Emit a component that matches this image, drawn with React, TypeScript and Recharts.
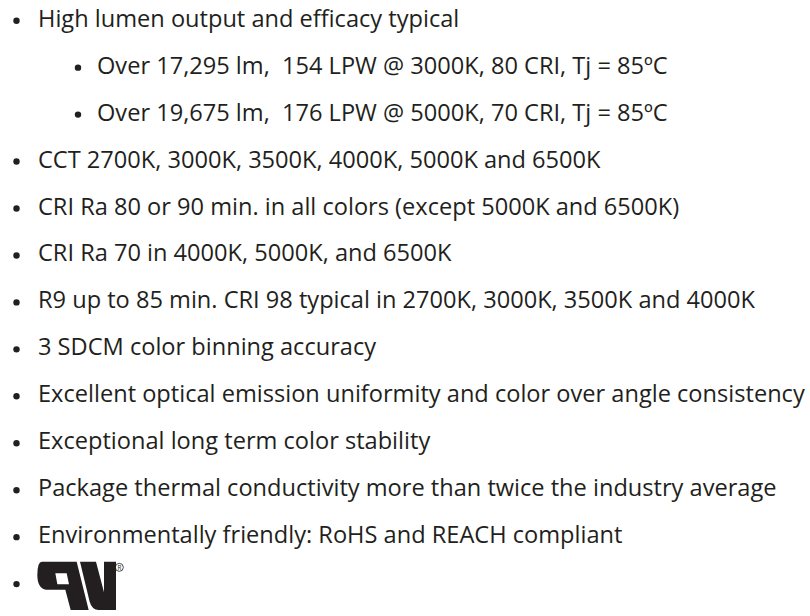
import React from "react"
import { Surface, Layer, Text, Dot } from "recharts"

// feature list, one entry per row; empty text = logo row
const featureTexts = [
  "High lumen output and efficacy typical",
  "Over 17,295 lm,\u00a0 154 LPW @ 3000K, 80 CRI, Tj = 85ºC",
  "Over 19,675 lm,\u00a0 176 LPW @ 5000K, 70 CRI, Tj = 85ºC",
  "CCT 2700K, 3000K, 3500K, 4000K, 5000K and 6500K",
  "CRI Ra 80 or 90 min. in all colors (except 5000K and 6500K)",
  "CRI Ra 70 in 4000K, 5000K, and 6500K",
  "R9 up to 85 min. CRI 98 typical in 2700K, 3000K, 3500K and 4000K",
  "3 SDCM color binning accuracy",
  "Excellent optical emission uniformity and color over angle consistency",
  "Exceptional long term color stability",
  "Package thermal conductivity more than twice the industry average",
  "Environmentally friendly: RoHS and REACH compliant",
  "",
]
const featureLevels = [0, 1, 1, 0, 0, 0, 0, 0, 0, 0, 0, 0, 0]

const WIDTH = 810
const HEIGHT = 616
const FIRST_BASELINE = 26.7
const ROW_STEP = 46.95
const BULLET_X = [16.5, 78]
const TEXT_X = [38, 97]
const INK = "#231f20"
const FONT = "'Open Sans', 'Noto Sans', sans-serif"

function UlMark({ x, y }: { x: number; y: number }) {
  // drawn in a 3x grid, scaled down
  return (
    <g transform={`translate(${x},${y}) scale(${1 / 3})`} fill={INK}>
      <path
        fillRule="evenodd"
        d="M36 20 L140 20 L176 165 L122 165 L106 104 L48 104 Q22 100 22 60 Q22 20 36 20 Z M76 55 L110 55 L117 88 L82 88 Z"
      />
      <path d="M150 20 L198 20 L222 112 L222 20 L258 20 L258 165 L206 165 Q186 165 179 140 Z" />
      <circle cx={268} cy={37} r={12} fill="none" stroke={INK} strokeWidth={2.4} />
      <text x={268} y={44} fontSize={19} textAnchor="middle" fontFamily={FONT}>
        R
      </text>
    </g>
  )
}

export default function App() {
  return (
    <div style={{ position: "absolute", left: 0, top: 0, width: WIDTH, height: HEIGHT, background: "#fff" }}>
      <Surface width={WIDTH} height={HEIGHT}>
        <Layer>
          {featureTexts.map((label, i) => {
            const level = featureLevels[i]
            const baseline = FIRST_BASELINE + i * ROW_STEP
            return (
              <Layer key={i}>
                <Dot cx={BULLET_X[level]} cy={baseline - 6} r={3.2} fill={INK} />
                {label ? (
                  <Text
                    x={TEXT_X[level]}
                    y={baseline}
                    fill={INK}
                    style={{ fontFamily: FONT, fontSize: 23.6 }}
                  >
                    {label}
                  </Text>
                ) : (
                  <UlMark x={30} y={555} />
                )}
              </Layer>
            )
          })}
        </Layer>
      </Surface>
    </div>
  )
}
